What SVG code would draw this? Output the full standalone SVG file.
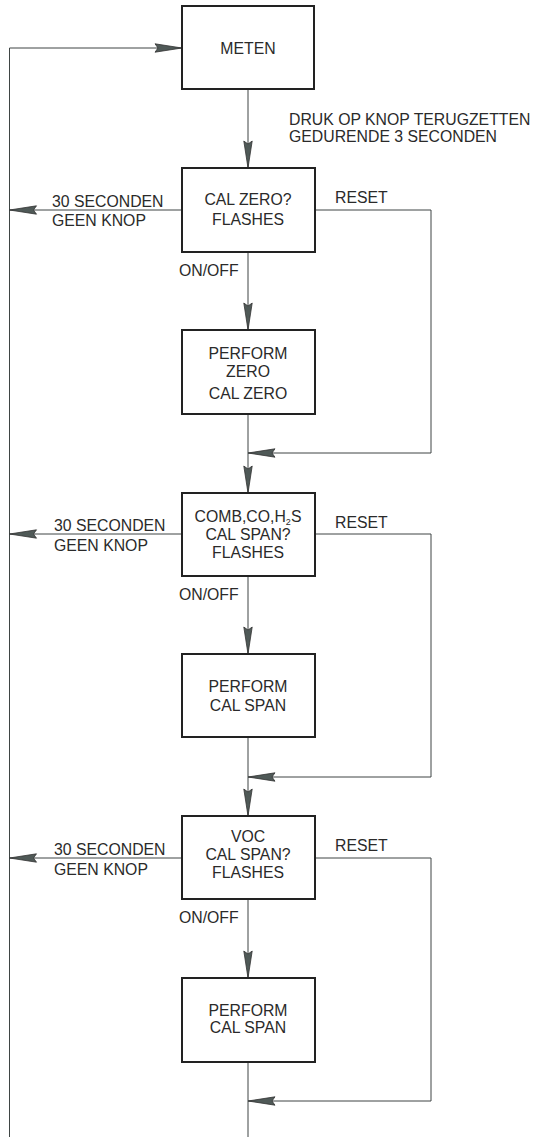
<svg xmlns="http://www.w3.org/2000/svg" width="535" height="1137" viewBox="0 0 535 1137">
<style>
.box{fill:#fff;stroke:#222;stroke-width:2}
.ln{fill:none;stroke:#3f4544;stroke-width:1}
text{font-family:"Liberation Sans",Arial,sans-serif;font-size:15.8px;fill:#2a2a2a}
.c{text-anchor:middle}
</style>
<defs>
<marker id="ah" viewBox="-28 -5 29 10" refX="0" refY="0" markerWidth="29" markerHeight="10" markerUnits="userSpaceOnUse" orient="auto">
<path d="M0,0 L-27,-4.2 L-24,0 L-27,4.2 Z" fill="#4f5957" stroke="#333" stroke-width="0.8"/>
</marker>
</defs>
<rect width="535" height="1137" fill="#fff"/>
<g id="connectors">
<path class="ln" d="M9.5,1137 V48 H182" marker-end="url(#ah)"/>
<path class="ln" d="M248,89 V168" marker-end="url(#ah)"/>
<path class="ln" d="M182,210 H9.5" marker-end="url(#ah)"/>
<path class="ln" d="M248,252 V330" marker-end="url(#ah)"/>
<path class="ln" d="M315,210 H431 V453 H248" marker-end="url(#ah)"/>
<path class="ln" d="M248,414 V493" marker-end="url(#ah)"/>
<path class="ln" d="M182,534 H9.5" marker-end="url(#ah)"/>
<path class="ln" d="M248,576 V654" marker-end="url(#ah)"/>
<path class="ln" d="M315,534 H431 V777 H248" marker-end="url(#ah)"/>
<path class="ln" d="M248,737 V816" marker-end="url(#ah)"/>
<path class="ln" d="M182,858 H9.5" marker-end="url(#ah)"/>
<path class="ln" d="M248,899 V978" marker-end="url(#ah)"/>
<path class="ln" d="M315,858 H431 V1101 H248" marker-end="url(#ah)"/>
<path class="ln" d="M248,1062 V1137"/>
</g>
<g id="labels">
<text x="289" y="125">DRUK OP KNOP TERUGZETTEN</text>
<text x="289" y="142">GEDURENDE 3 SECONDEN</text>
<text x="52" y="206.5">30 SECONDEN</text>
<text x="52" y="226">GEEN KNOP</text>
<text x="335" y="203">RESET</text>
<text x="179" y="276">ON/OFF</text>
<text x="54" y="531">30 SECONDEN</text>
<text x="54" y="550.5">GEEN KNOP</text>
<text x="335" y="527.5">RESET</text>
<text x="179" y="600">ON/OFF</text>
<text x="54" y="855">30 SECONDEN</text>
<text x="54" y="874.5">GEEN KNOP</text>
<text x="335" y="851">RESET</text>
<text x="179" y="923">ON/OFF</text>
</g>
<g id="meten">
<rect class="box" x="182" y="6" width="132" height="83"/>
<text class="c" x="248" y="54">METEN</text>
</g>
<g id="calzero">
<rect class="box" x="182" y="168" width="133" height="84"/>
<text class="c" x="248" y="204.5">CAL ZERO?</text>
<text class="c" x="248" y="224.5">FLASHES</text>
</g>
<g id="performzero">
<rect class="box" x="182" y="330" width="133" height="84"/>
<text class="c" x="248" y="358.5">PERFORM</text>
<text class="c" x="248" y="377">ZERO</text>
<text class="c" x="248" y="398.5">CAL ZERO</text>
</g>
<g id="combspan">
<rect class="box" x="182" y="493" width="133" height="83"/>
<text class="c" x="248" y="521.5">COMB,CO,H<tspan font-size="9" dy="3">2</tspan><tspan dy="-3">S</tspan></text>
<text class="c" x="248" y="540">CAL SPAN?</text>
<text class="c" x="248" y="558">FLASHES</text>
</g>
<g id="performspan1">
<rect class="box" x="182" y="654" width="133" height="83"/>
<text class="c" x="248" y="692">PERFORM</text>
<text class="c" x="248" y="711">CAL SPAN</text>
</g>
<g id="vocspan">
<rect class="box" x="182" y="816" width="133" height="83"/>
<text class="c" x="248" y="841.5">VOC</text>
<text class="c" x="248" y="860">CAL SPAN?</text>
<text class="c" x="248" y="878">FLASHES</text>
</g>
<g id="performspan2">
<rect class="box" x="182" y="978" width="133" height="84"/>
<text class="c" x="248" y="1016">PERFORM</text>
<text class="c" x="248" y="1033">CAL SPAN</text>
</g>
</svg>
